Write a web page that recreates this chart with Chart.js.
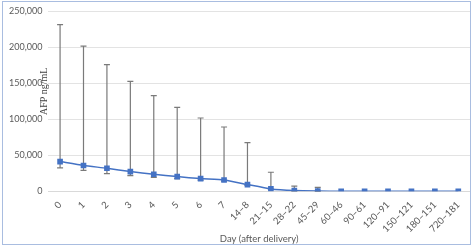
<!DOCTYPE html>
<html>
<head>
<meta charset="utf-8">
<script src="https://cdn.jsdelivr.net/npm/chart.js@4"></script>
<style>
  body { margin: 0; background: #fff; }
  #wrap { position: relative; width: 474px; height: 249px; }
  #frame { position: absolute; left: 2px; top: 1px; width: 467px; height: 242px; border: 1.5px solid #a9bde0; pointer-events: none; }
</style>
</head>
<body>
<div id="wrap">
  <canvas id="myChart" width="474" height="249"></canvas>
  <div id="frame"></div>
</div>
<script>
const days = ["0", "1", "2", "3", "4", "5", "6", "7", "14\u20138", "21\u201315", "28\u201322", "45\u201329",
  "60\u201346", "90\u201361", "120\u201391", "150\u2013121", "180\u2013151", "720\u2013181"];
const afpMean = [41300, 35800, 32000, 27400, 23600, 20400, 17600, 15700, 9300, 3300, 1000, 300,
  60, 40, 30, 20, 15, 10];
const afpHigh = [231500, 201800, 176000, 152800, 132900, 116700, 101800, 89300, 67600, 26400, 7200, 5500,
  0, 0, 0, 0, 0, 0];
const afpLow = [32400, 29000, 24500, 21800, 19400, 17500, 15500, 14000, 8000, 2500, 500, 100,
  0, 0, 0, 0, 0, 0];
const yTicks = [0, 50000, 100000, 150000, 200000, 250000];

// error bars, drawn under the line
const errorBars = {
  id: "errorBars",
  beforeDatasetsDraw(chart) {
    const ctx = chart.ctx;
    const x = chart.scales.x;
    const y = chart.scales.y;
    ctx.save();
    ctx.strokeStyle = "#7a7a7a";
    ctx.lineWidth = 1.2;
    for (let i = 0; i < days.length; i++) {
      if (afpHigh[i] <= afpMean[i]) continue;
      const px = x.getPixelForValue(i);
      const top = y.getPixelForValue(afpHigh[i]);
      const bot = y.getPixelForValue(afpLow[i]);
      ctx.beginPath();
      ctx.moveTo(px, top); ctx.lineTo(px, bot);
      ctx.moveTo(px - 3, top); ctx.lineTo(px + 3, top);
      ctx.moveTo(px - 3, bot); ctx.lineTo(px + 3, bot);
      ctx.stroke();
    }
    ctx.restore();
  },
  afterDraw(chart) {
    const ctx = chart.ctx;
    const area = chart.chartArea;
    ctx.save();
    ctx.translate(area.left - 1, (area.top + area.bottom) / 2 - 10);
    ctx.rotate(-Math.PI / 2);
    ctx.fillStyle = "#404040";
    ctx.font = "10px 'Liberation Serif'";
    ctx.textAlign = "center";
    ctx.fillText("AFP ng/mL", 0, 0);
    ctx.restore();
  }
};

new Chart(document.getElementById("myChart"), {
  type: "line",
  data: {
    labels: days,
    datasets: [{
      data: afpMean,
      borderColor: "#4472c4",
      backgroundColor: "#4472c4",
      borderWidth: 1.5,
      pointStyle: "rect",
      pointRadius: 4,
      pointBorderWidth: 0,
      tension: 0.2
    }]
  },
  options: {
    responsive: false,
    animation: false,
    layout: { padding: { left: 3, right: 4, top: 6, bottom: 4 } },
    plugins: { legend: { display: false }, tooltip: { enabled: false } },
    scales: {
      x: {
        offset: true,
        grid: { display: false },
        border: { color: "#d9d9d9" },
        ticks: { color: "#595959", font: { size: 9.5, family: "Lato" }, maxRotation: 45, minRotation: 45, padding: 0 },
        title: { display: true, text: "Day (after delivery)", color: "#595959", font: { size: 9.5, family: "Lato" }, padding: { top: -1, bottom: 0 } }
      },
      y: {
        min: 0,
        max: 250000,
        afterBuildTicks(axis) { axis.ticks = yTicks.map(v => ({ value: v })); },
        grid: { color: "#e3e3e3", drawTicks: false },
        border: { display: false },
        ticks: {
          color: "#595959",
          font: { size: 9, family: "Lato" },
          padding: 6,
          callback: v => v.toLocaleString("en-US")
        }
      }
    }
  },
  plugins: [errorBars]
});
</script>
</body>
</html>
